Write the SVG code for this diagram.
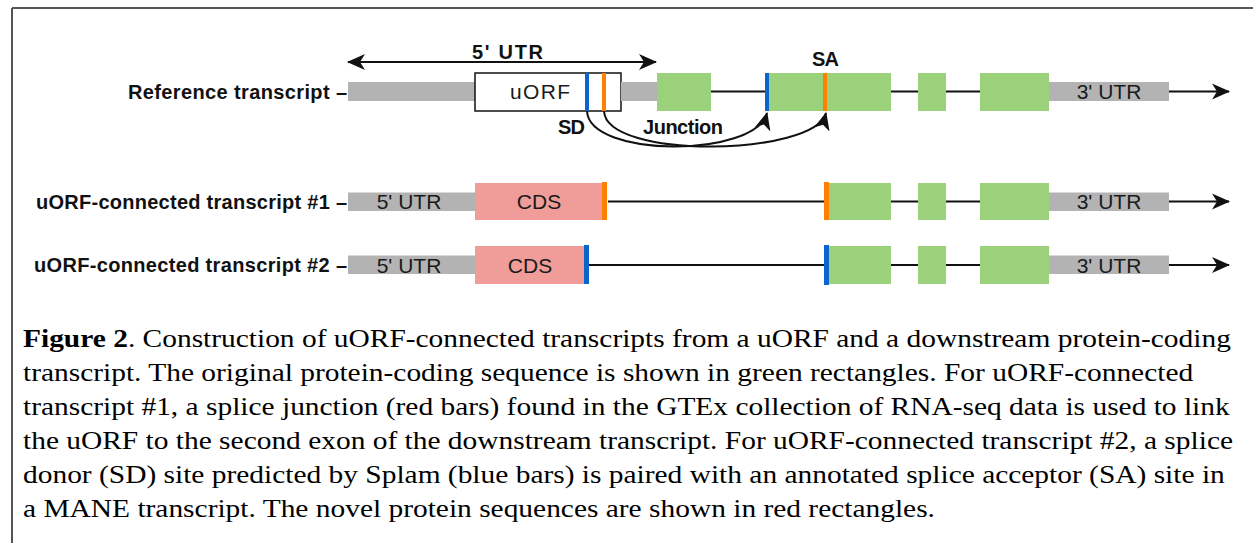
<svg xmlns="http://www.w3.org/2000/svg" width="1255" height="543" viewBox="0 0 1255 543">
<defs>
<style>
.utr{fill:#b3b3b3}
.exon{fill:#9bd17b}
.cds{fill:#f09c98}
.orf{fill:#ffffff;stroke:#111;stroke-width:1.5}
.sd{fill:#0a66cc}
.sa{fill:#ff8000}
.ln{stroke:#111;stroke-width:2;fill:none}
.lab{font-family:"Liberation Sans",Arial,sans-serif;font-weight:bold;font-size:20px;fill:#111}
.box{font-family:"Liberation Sans",Arial,sans-serif;font-size:21px;fill:#1a1a1a;text-anchor:middle}
.cap{font-family:"Liberation Serif","Times New Roman",serif;font-size:25px;fill:#000}
</style>
<marker id="ah" markerUnits="userSpaceOnUse" markerWidth="18" markerHeight="18" refX="17" refY="8" orient="auto-start-reverse" viewBox="0 0 18 16">
<path d="M0,0 L18,8 L0,16 L5,8 Z" fill="#111"/>
</marker>
</defs>
<g id="frame">
<line x1="12" y1="8" x2="1253" y2="8" stroke="#222" stroke-width="1.5"/>
<line x1="12" y1="8" x2="12" y2="543" stroke="#555" stroke-width="2"/>
</g>
<g id="connectors">
<line class="ln" x1="348" y1="62" x2="656" y2="62" marker-start="url(#ah)" marker-end="url(#ah)"/>
<line class="ln" x1="711" y1="91.5" x2="768" y2="91.5"/>
<line class="ln" x1="891" y1="91.5" x2="918" y2="91.5"/>
<line class="ln" x1="946" y1="91.5" x2="980" y2="91.5"/>
<line class="ln" x1="1169" y1="91.5" x2="1229" y2="91.5" marker-end="url(#ah)"/>
<path class="ln" d="M587,111 C589,158 755,158 767,113" marker-end="url(#ah)"/>
<path class="ln" d="M604,111 C606,160 815,156 826,113" marker-end="url(#ah)"/>
<line class="ln" x1="608" y1="201.5" x2="826" y2="201.5"/>
<line class="ln" x1="891" y1="201.5" x2="918" y2="201.5"/>
<line class="ln" x1="946" y1="201.5" x2="980" y2="201.5"/>
<line class="ln" x1="1169" y1="201.5" x2="1229" y2="201.5" marker-end="url(#ah)"/>
<line class="ln" x1="589" y1="265" x2="826" y2="265"/>
<line class="ln" x1="891" y1="265" x2="918" y2="265"/>
<line class="ln" x1="946" y1="265" x2="980" y2="265"/>
<line class="ln" x1="1169" y1="265" x2="1229" y2="265" marker-end="url(#ah)"/>
</g>
<g id="labels-top">
<text class="lab" x="472" y="59" textLength="71">5' UTR</text>
<text class="lab" x="812" y="66" textLength="27">SA</text>
<text class="lab" x="558" y="134" textLength="27">SD</text>
<text class="lab" x="643" y="134" textLength="80">Junction</text>
</g>
<g id="ref-transcript">
<text class="lab" x="128" y="98.5" textLength="219">Reference transcript –</text>
<g id="ref-5utr"><rect class="utr" x="348" y="82" width="127" height="19"/></g>
<g id="ref-uorf"><rect class="orf" x="475" y="73" width="146" height="38"/>
<text class="box" x="540" y="98.5" textLength="60">uORF</text>
<rect class="sd" x="585" y="73" width="4" height="38"/>
<rect class="sa" x="602" y="73" width="4" height="38"/></g>
<g id="ref-utr2"><rect class="utr" x="621" y="82" width="36" height="19"/></g>
<g id="ref-exon1"><rect class="exon" x="657" y="73" width="54" height="38"/></g>
<g id="ref-exon2"><rect class="exon" x="766" y="73" width="125" height="38"/>
<rect class="sd" x="765" y="73" width="4" height="38"/>
<rect class="sa" x="823" y="73" width="4" height="38"/></g>
<g id="ref-exon3"><rect class="exon" x="918" y="73" width="28" height="38"/></g>
<g id="ref-exon4"><rect class="exon" x="980" y="73" width="69" height="38"/></g>
<g id="ref-3utr"><rect class="utr" x="1049" y="82" width="120" height="19"/>
<text class="box" x="1109" y="98.5">3' UTR</text></g>
</g>
<g id="uorf-transcript-1">
<text class="lab" x="36" y="208.5" textLength="311">uORF-connected transcript #1 –</text>
<g id="t1-5utr"><rect class="utr" x="348" y="192.5" width="127" height="18.5"/>
<text class="box" x="409" y="209">5' UTR</text></g>
<g id="t1-cds"><rect class="cds" x="475" y="183" width="127" height="37"/>
<text class="box" x="539" y="209">CDS</text>
<rect class="sa" x="602" y="182" width="5" height="38"/></g>
<g id="t1-exon2"><rect class="exon" x="829" y="183" width="62" height="37"/>
<rect class="sa" x="824" y="182" width="5" height="38"/></g>
<g id="t1-exon3"><rect class="exon" x="918" y="183" width="28" height="37"/></g>
<g id="t1-exon4"><rect class="exon" x="980" y="183" width="69" height="37"/></g>
<g id="t1-3utr"><rect class="utr" x="1049" y="192.5" width="120" height="18.5"/>
<text class="box" x="1109" y="209">3' UTR</text></g>
</g>
<g id="uorf-transcript-2">
<text class="lab" x="34" y="272" textLength="313">uORF-connected transcript #2 –</text>
<g id="t2-5utr"><rect class="utr" x="348" y="255.5" width="127" height="18.5"/>
<text class="box" x="409" y="272.5">5' UTR</text></g>
<g id="t2-cds"><rect class="cds" x="475" y="246" width="109" height="38"/>
<text class="box" x="530" y="272.5">CDS</text>
<rect class="sd" x="584" y="245" width="5" height="39"/></g>
<g id="t2-exon2"><rect class="exon" x="829" y="246" width="62" height="38"/>
<rect class="sd" x="824" y="245" width="5" height="40"/></g>
<g id="t2-exon3"><rect class="exon" x="918" y="246" width="28" height="38"/></g>
<g id="t2-exon4"><rect class="exon" x="980" y="246" width="69" height="38"/></g>
<g id="t2-3utr"><rect class="utr" x="1049" y="255.5" width="120" height="18.5"/>
<text class="box" x="1109" y="272.5">3' UTR</text></g>
</g>
<g id="caption" transform="translate(23,0) scale(1.177,1)">
<text class="cap" x="0" y="347"><tspan font-weight="bold">Figure 2</tspan>. Construction of uORF-connected transcripts from a uORF and a downstream protein-coding</text>
<text class="cap" x="0" y="381">transcript. The original protein-coding sequence is shown in green rectangles. For uORF-connected</text>
<text class="cap" x="0" y="415">transcript #1, a splice junction (red bars) found in the GTEx collection of RNA-seq data is used to link</text>
<text class="cap" x="0" y="449">the uORF to the second exon of the downstream transcript. For uORF-connected transcript #2, a splice</text>
<text class="cap" x="0" y="483">donor (SD) site predicted by Splam (blue bars) is paired with an annotated splice acceptor (SA) site in</text>
<text class="cap" x="0" y="517">a MANE transcript. The novel protein sequences are shown in red rectangles.</text>
</g>
</svg>
